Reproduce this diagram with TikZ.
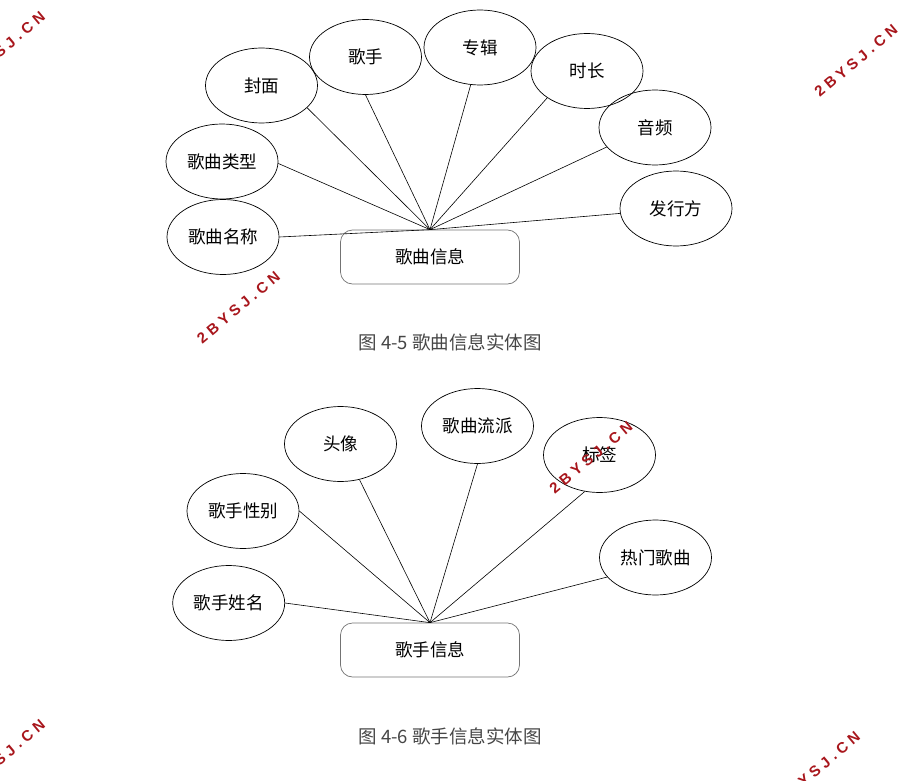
\documentclass[tikz,border=0pt]{standalone}
\usepackage{fontspec}
\setmainfont{Noto Sans CJK SC}
\newfontfamily\wmfont[LetterSpace=28]{Liberation Sans}
\usepackage{tikz}
\usetikzlibrary{shapes.geometric}
\definecolor{wmred}{RGB}{168,22,28}
\definecolor{capgray}{RGB}{70,70,70}
\tikzset{
  attr/.style={draw=black, ellipse, minimum width=112pt, minimum height=75pt,
    inner sep=0pt, line width=0.7pt, font=\fontsize{17.5}{20}\selectfont},
  entity/.style={draw=black!55, rounded corners=12pt, minimum width=179pt,
    minimum height=54pt, line width=0.7pt, font=\fontsize{17.5}{20}\selectfont},
  link/.style={line width=0.6pt, black},
  figcap/.style={text=capgray, font=\fontsize{18.5}{21}\selectfont},
  wmark/.style={text=wmred, rotate=40, font=\wmfont\bfseries\fontsize{15}{18}\selectfont}
}

\begin{document}
\begin{tikzpicture}[x=1pt, y=-1pt]
  \useasboundingbox (0,0) rectangle (918,781);
  \clip (0,0) rectangle (918,781);

  % song entity
  \node[entity] (song) at (430,257) {歌曲信息};
  \foreach \n/\x/\y/\a/\lab in {sname/223/237/0/歌曲名称, stype/222/161.5/-2/歌曲类型,
                                cover/261.5/85.5/-26/封面, singer/365.5/57/-90/歌手,
                                album/480/47.5/-104/专辑, dur/587/71/-146/时长,
                                audio/655/127.5/-158/音频, issuer/676/208.5/-175/发行方}{
    \node[attr] (\n) at (\x,\y) {\lab};
    \draw[link] (song.north) -- (\n.\a);
  }
  \node[figcap] (cap1) at (450,342) {图 4-5 歌曲信息实体图};

  % singer entity
  \node[entity] (artist) at (430,650) {歌手信息};
  \foreach \n/\x/\y/\a/\lab in {aname/228.7/603/0/歌手姓名, agender/243/511/0/歌手性别,
                                avatar/340.5/444/-62/头像, genre/477.5/426/-90/歌曲流派,
                                tag/599.5/455/-112/标签, hot/655.5/557.5/-158/热门歌曲}{
    \node[attr] (\n) at (\x,\y) {\lab};
    \draw[link] (artist.north) -- (\n.\a);
  }
  \node[figcap] (cap2) at (450,736) {图 4-6 歌手信息实体图};

  % watermarks
  \node[wmark] (wm1) at (3.5,48) {2BYSJ.CN};
  \node[wmark] (wm2) at (856,61) {2BYSJ.CN};
  \node[wmark] (wm3) at (238.5,307.5) {2BYSJ.CN};
  \node[wmark] (wm4) at (591,457.5) {2BYSJ.CN};
  \node[wmark] (wm5) at (3.5,756) {2BYSJ.CN};
  \node[wmark] (wm6) at (818.5,768) {2BYSJ.CN};
\end{tikzpicture}
\end{document}
